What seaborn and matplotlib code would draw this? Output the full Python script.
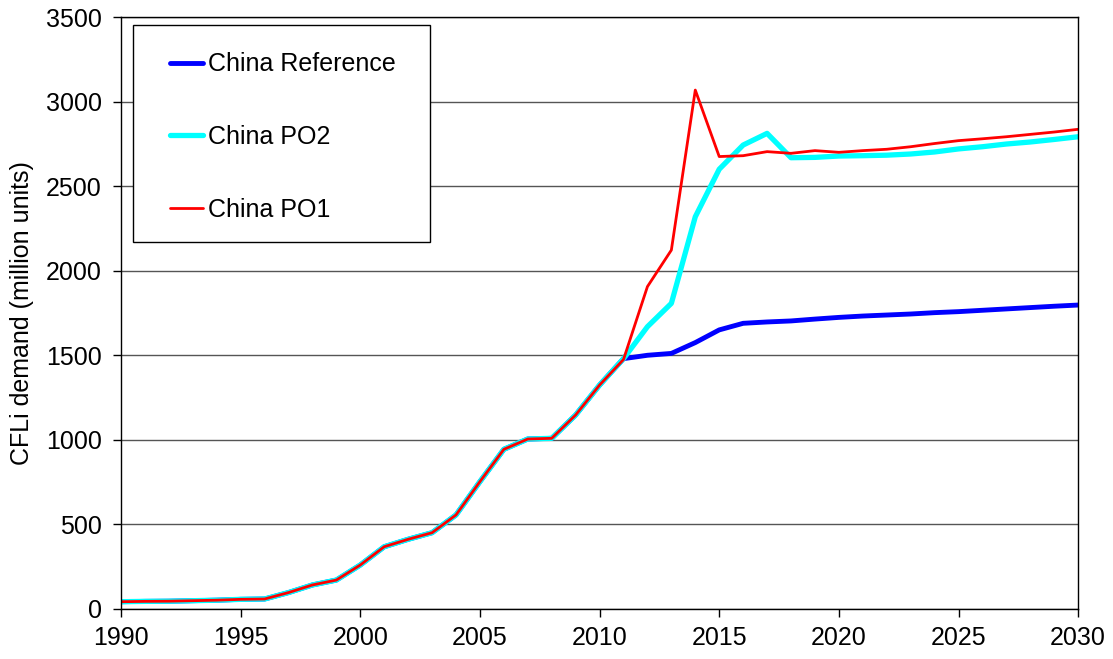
import matplotlib
matplotlib.use("Agg")
import matplotlib.pyplot as plt
from matplotlib.patches import Rectangle
import pandas as pd
import seaborn as sns

# annual values (million units)
years = list(range(1990, 2031))

china_reference = [43, 45, 46, 49, 52, 57, 59, 97, 142, 171,
                   260, 368, 412, 451, 556, 753, 944, 1005, 1009, 1147,
                   1324, 1480, 1500, 1511, 1575, 1650, 1689, 1697, 1703, 1714,
                   1724, 1732, 1738, 1744, 1752, 1758, 1766, 1774, 1782, 1790,
                   1797]

china_po2 = [43, 45, 46, 49, 52, 57, 59, 97, 142, 171,
             260, 368, 412, 451, 556, 753, 944, 1005, 1009, 1147,
             1324, 1480, 1669, 1807, 2319, 2600, 2743, 2812, 2668, 2670,
             2678, 2680, 2683, 2690, 2702, 2720, 2733, 2749, 2761, 2776,
             2792]

china_po1 = [43, 45, 46, 49, 52, 57, 59, 97, 142, 171,
             260, 368, 412, 451, 556, 753, 944, 1005, 1009, 1147,
             1324, 1475, 1906, 2122, 3068, 2675, 2680, 2704, 2694, 2710,
             2700, 2710, 2718, 2733, 2752, 2769, 2780, 2792, 2806, 2820,
             2836]

series_names = ["China Reference", "China PO2", "China PO1"]
series_colors = ["#0000ff", "#00ffff", "#ff0000"]
series_widths = [3.5, 3.8, 2.0]

sns.set_style("white", {"text.color": "black", "axes.labelcolor": "black",
                        "xtick.color": "black", "ytick.color": "black"})
plt.rcParams["font.family"] = ["Liberation Sans", "DejaVu Sans"]

fig = plt.figure(figsize=(11.13, 6.59), dpi=100)
ax = fig.add_axes([0.1087, 0.0759, 0.8600, 0.8983])

for name, values, col, lw in zip(series_names,
                                 [china_reference, china_po2, china_po1],
                                 series_colors, series_widths):
    df = pd.DataFrame({"year": years, "demand": values})
    sns.lineplot(data=df, x="year", y="demand", color=col, linewidth=lw,
                 label=name, ax=ax)

ax.set_xlim(1990, 2030)
ax.set_ylim(0, 3500)
ax.set_xticks(range(1990, 2031, 5))
ax.set_yticks(range(0, 3501, 500))
ax.yaxis.grid(True, color="#555555", linewidth=1.0)
ax.set_axisbelow(True)

for side in ["left", "right", "top", "bottom"]:
    ax.spines[side].set_color("black")
    ax.spines[side].set_linewidth(1.0)

ax.tick_params(axis="both", direction="out", length=6, width=1,
               color="black", labelcolor="black", labelsize=18,
               left=True, bottom=True)
ax.tick_params(axis="y", pad=8)
ax.tick_params(axis="x", pad=6)
ax.set_xlabel("")
ax.set_ylabel("CFLi demand (million units)", fontsize=18, labelpad=8,
              color="black")

# legend box drawn separately so the entries can sit with Excel-like padding
ax.add_patch(Rectangle((0.0125, 0.620), 0.310, 0.3665,
                       transform=ax.transAxes, facecolor="white",
                       edgecolor="black", linewidth=1.0, zorder=3))
leg = ax.legend(loc="upper left", bbox_to_anchor=(0.023, 0.9865),
                borderaxespad=0, fontsize=18, frameon=False,
                handlelength=1.3, handletextpad=0.2, labelspacing=1.95,
                borderpad=1.1)
leg.set_zorder(5)
for t in leg.get_texts():
    t.set_color("black")

fig.savefig("out.png", dpi=100)
